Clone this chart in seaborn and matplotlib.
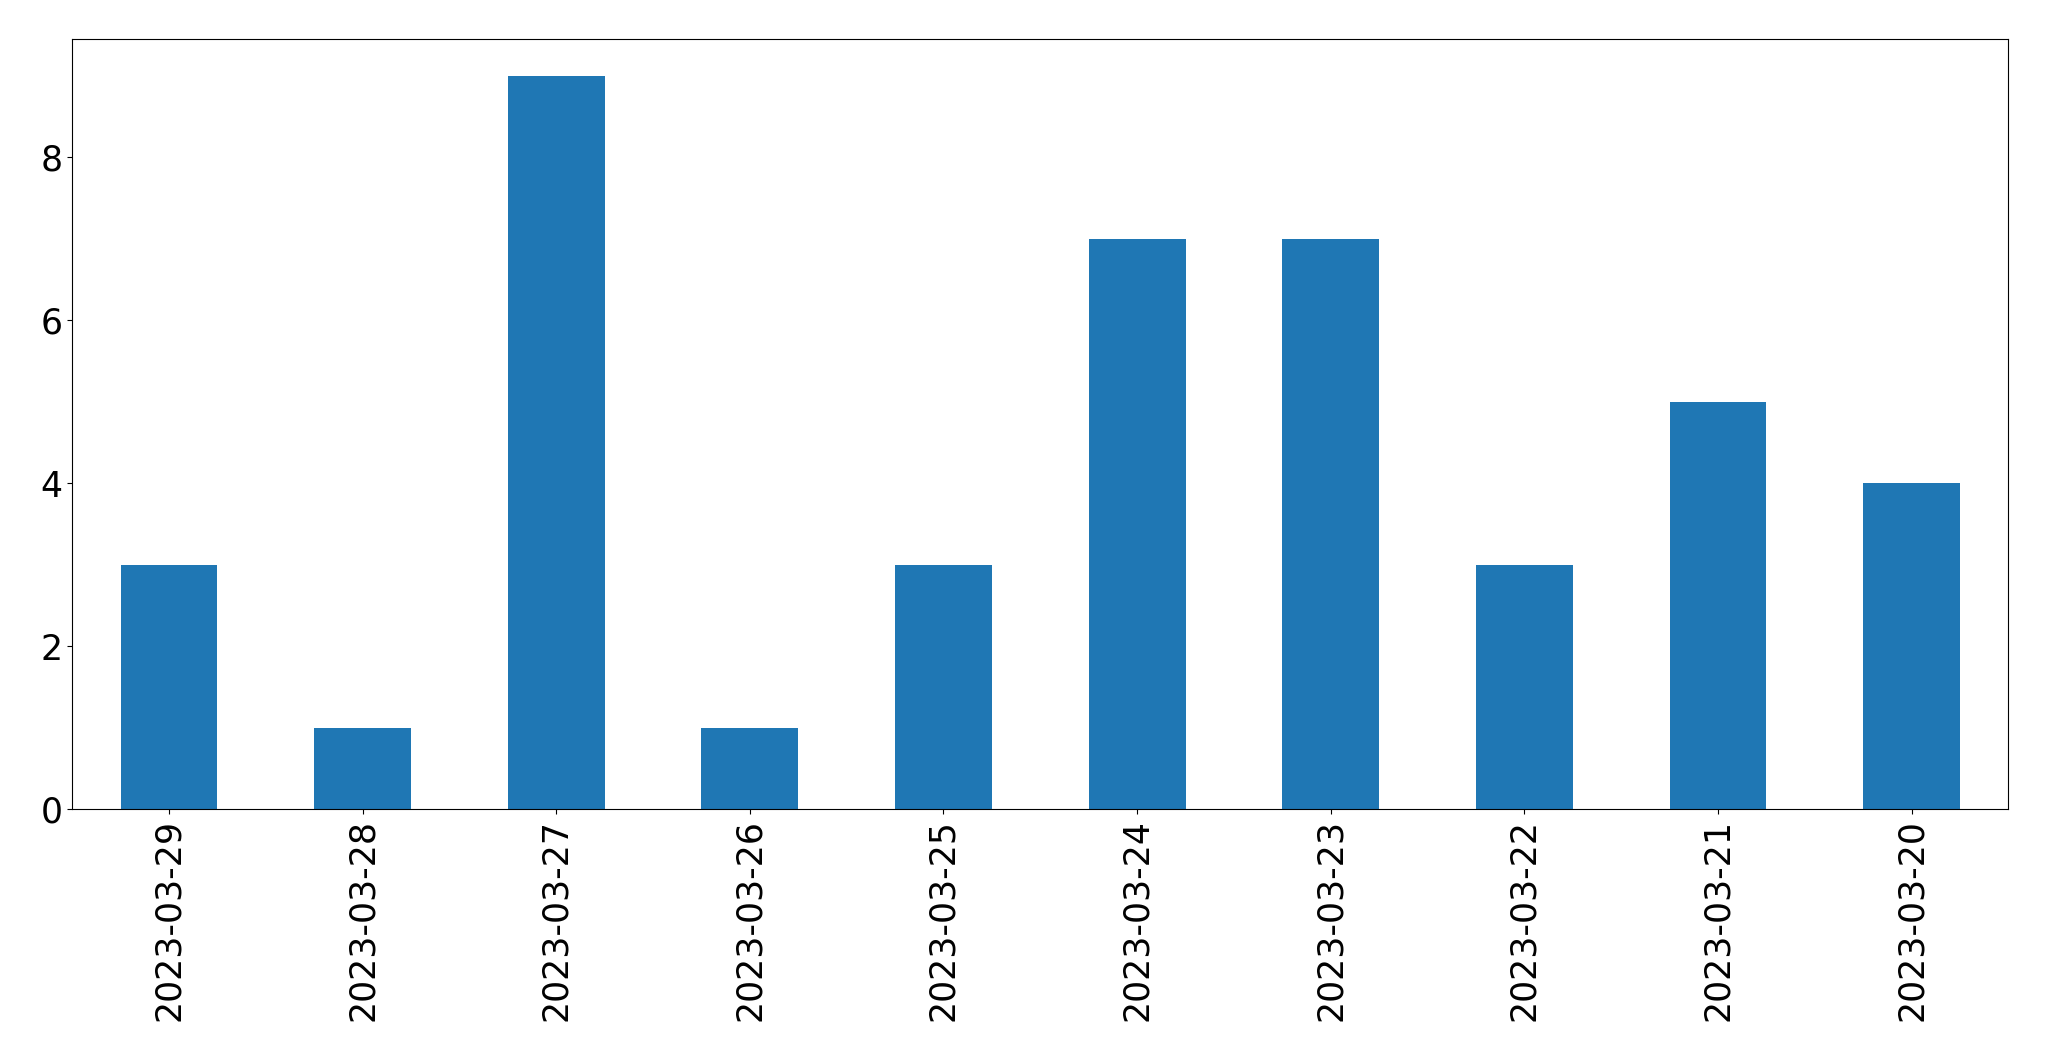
import matplotlib
matplotlib.use("Agg")
import matplotlib.pyplot as plt
import seaborn as sns
import pandas as pd

dates = ["2023-03-29", "2023-03-28", "2023-03-27", "2023-03-26", "2023-03-25",
         "2023-03-24", "2023-03-23", "2023-03-22", "2023-03-21", "2023-03-20"]
counts = [3, 1, 9, 1, 3, 7, 7, 3, 5, 4]

df = pd.DataFrame({"date": dates, "count": counts})

fig = plt.figure(figsize=(20.49, 10.61), dpi=100)
ax = fig.add_axes([0.0352, 0.2375, 0.945, 0.7257])
sns.barplot(data=df, x="date", y="count", order=dates, color="#1f77b4",
            saturation=1, width=0.5, ax=ax, errorbar=None, linewidth=0)
ax.set_xlabel("")
ax.set_ylabel("")
ax.set_ylim(0, 9.45)
ax.set_xlim(-0.5, len(dates) - 0.5)
ax.tick_params(axis="both", labelsize=25)
plt.setp(ax.get_xticklabels(), rotation=90)
fig.savefig("out.png", dpi=100)
